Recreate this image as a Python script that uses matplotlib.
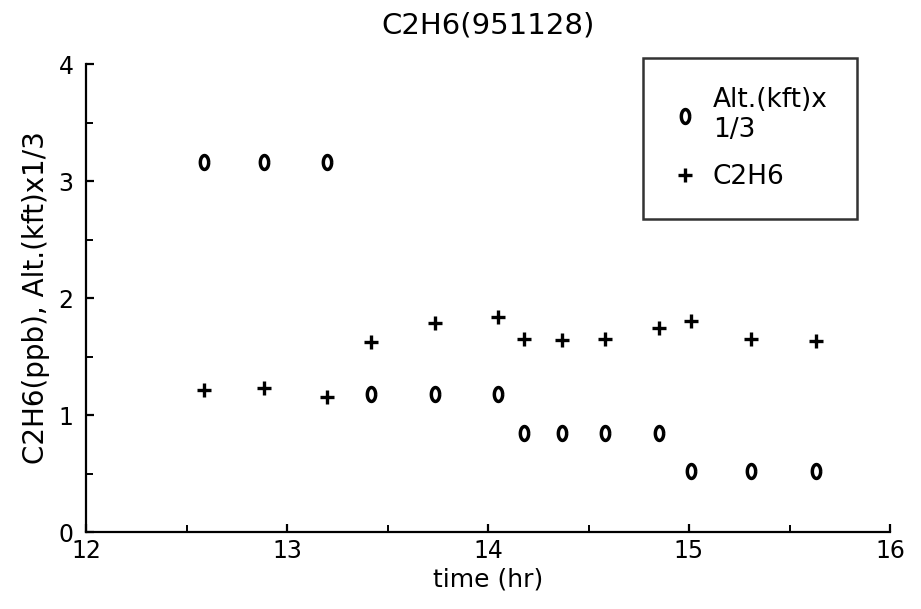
import matplotlib
matplotlib.use("Agg")
import matplotlib.pyplot as plt
from matplotlib.path import Path
from matplotlib.ticker import MultipleLocator
import numpy as np

# Data
time_hr = [12.587, 12.886, 13.20, 13.416, 13.736, 14.05, 14.18, 14.37, 14.58, 14.85, 15.01, 15.31, 15.63]
alt_kft_x_third = [3.16, 3.16, 3.16, 1.176, 1.176, 1.176, 0.843, 0.843, 0.843, 0.843, 0.52, 0.52, 0.52]
c2h6_ppb = [1.213, 1.227, 1.15, 1.62, 1.787, 1.84, 1.646, 1.645, 1.65, 1.745, 1.80, 1.65, 1.63]

title = "C2H6(951128)"
xlabel = "time (hr)"
ylabel = "C2H6(ppb), Alt.(kft)x1/3"
labels = ["Alt.(kft)x\n1/3", "C2H6"]

plt.rcParams['font.family'] = ['DejaVu Sans']

W, H = 921, 609
fig = plt.figure(figsize=(W / 100, H / 100), dpi=100)
ax = fig.add_axes([86 / W, 1 - 532 / H, (890 - 86) / W, (532 - 64) / H])

# Oval "0"-like marker
t = np.linspace(0, 2 * np.pi, 60)
oval = Path(np.column_stack([0.6 * np.cos(t), np.sin(t)]))

ax.plot(time_hr, alt_kft_x_third, linestyle='none', marker=oval, markersize=10,
        markerfacecolor='none', markeredgecolor='black', markeredgewidth=2.5, label=labels[0])
ax.plot(time_hr, c2h6_ppb, linestyle='none', marker='+', markersize=10,
        markeredgecolor='black', markeredgewidth=2.4, label=labels[1])

ax.set_xlim(12, 16)
ax.set_ylim(0, 4)
ax.xaxis.set_major_locator(MultipleLocator(1))
ax.xaxis.set_minor_locator(MultipleLocator(0.5))
ax.yaxis.set_major_locator(MultipleLocator(1))
ax.yaxis.set_minor_locator(MultipleLocator(0.5))

for s in ['top', 'right']:
    ax.spines[s].set_visible(False)
for s in ['left', 'bottom']:
    ax.spines[s].set_linewidth(1.6)

ax.tick_params(which='major', direction='in', length=6, width=1.6, labelsize=17)
ax.tick_params(axis='x', which='major', pad=5)
ax.tick_params(axis='y', which='major', pad=9)
ax.tick_params(which='minor', direction='in', length=5, width=1.4)

ax.set_title(title, fontsize=21, pad=22)
ax.set_xlabel(xlabel, fontsize=18, labelpad=3)
ax.set_ylabel(ylabel, fontsize=20, labelpad=6)

leg = fig.legend(loc='upper left', bbox_to_anchor=(643 / W, 1 - 58 / H), fontsize=19,
                 frameon=True, fancybox=False, shadow=False, handlelength=1.0,
                 handletextpad=0.55, borderpad=1.1, labelspacing=0.8, borderaxespad=0)
leg.get_frame().set_edgecolor('black')
leg.get_frame().set_linewidth(1.8)

fig.savefig("out.png", dpi=100)
